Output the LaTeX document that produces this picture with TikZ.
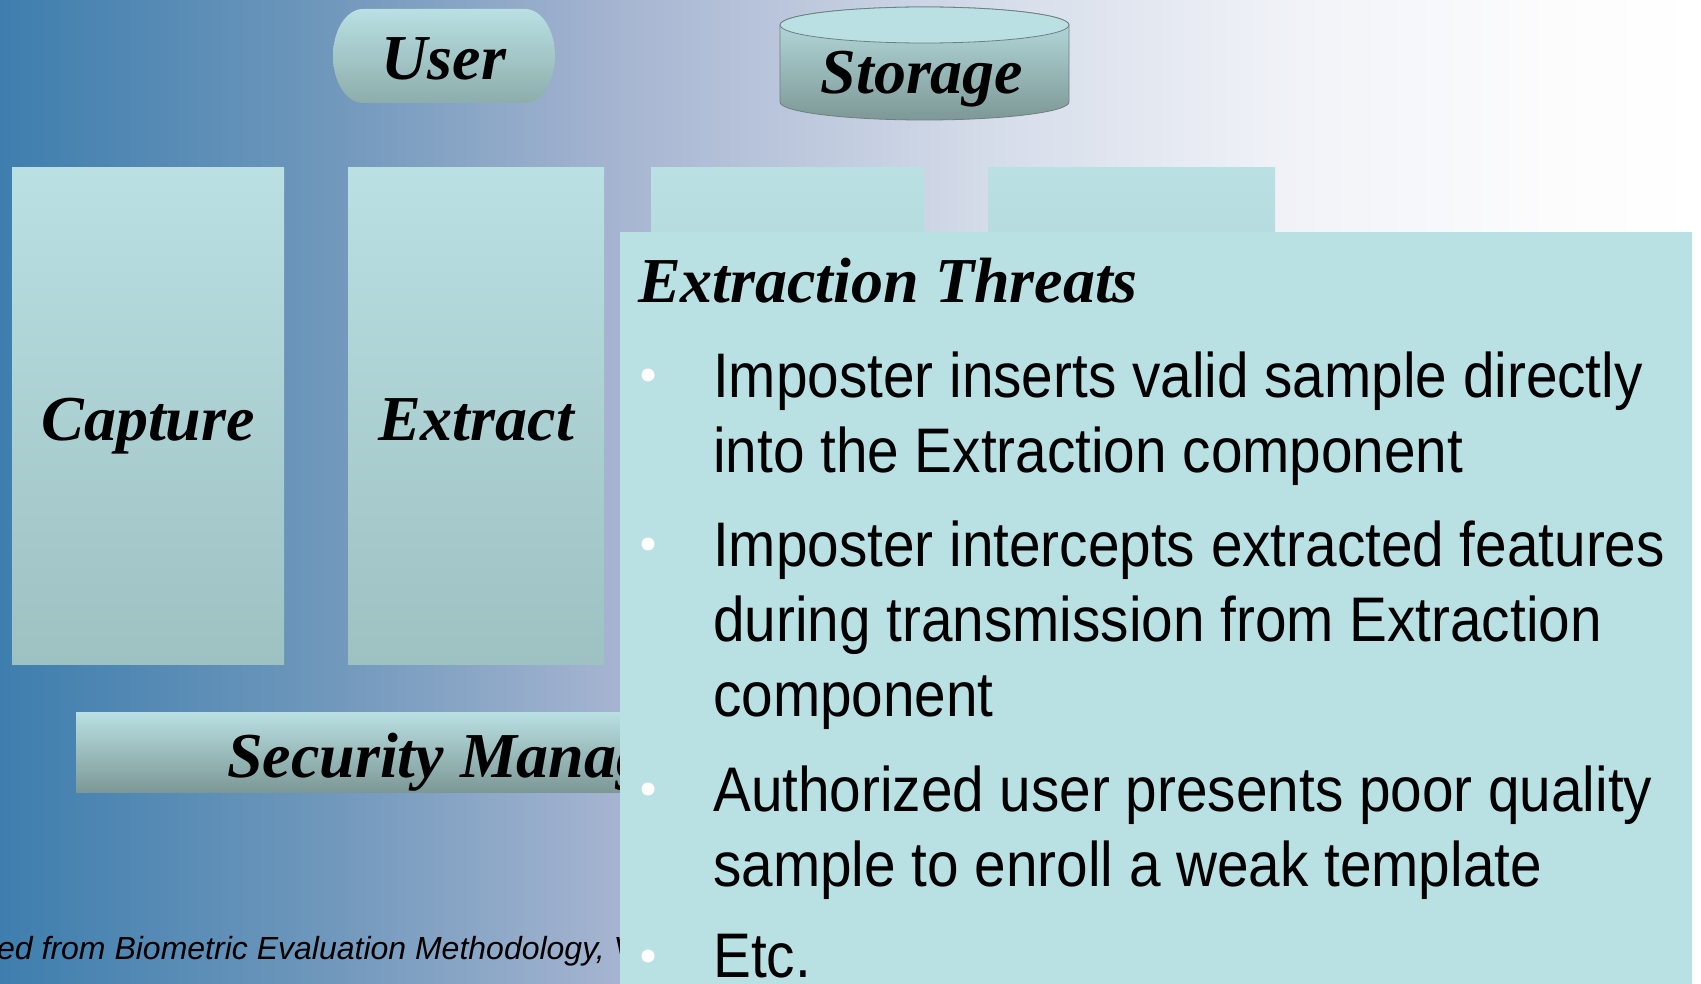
\documentclass[tikz,border=0pt]{standalone}
\usepackage{fontspec}
\setmainfont{Liberation Serif}
\newfontfamily\bodyfont[FakeStretch=0.9]{Liberation Sans}
\newfontfamily\footfont{Liberation Sans}
\definecolor{bgA}{RGB}{62,126,174}
\definecolor{bgB}{RGB}{112,152,188}
\definecolor{bgC}{RGB}{166,181,209}
\definecolor{bgD}{RGB}{214,221,234}
\definecolor{bgE}{RGB}{241,243,248}
\definecolor{bgF}{RGB}{252,252,253}
\definecolor{paneFill}{RGB}{185,224,227}
\definecolor{boxTop}{RGB}{186,224,227}
\definecolor{boxBot}{RGB}{158,193,194}
\definecolor{shapeBot}{RGB}{140,173,171}
\definecolor{barBot}{RGB}{124,152,150}
\definecolor{cylBot}{RGB}{125,152,150}
\definecolor{cylLine}{RGB}{110,128,128}
\begin{document}
\begin{tikzpicture}[x=1pt,y=-1pt,
  lbl/.style={font=\fontsize{64}{70}\selectfont\bfseries\itshape, inner sep=0pt, anchor=base},
  body/.style={font=\bodyfont\fontsize{63}{75}\selectfont, inner sep=0pt, anchor=base west},
  bulletdot/.style={circle, fill=white, draw=none, inner sep=0pt, minimum size=13pt},
  compbox/.style={top color=boxTop, bottom color=boxBot, draw=none},
]
\useasboundingbox (0,0) rectangle (1701,984);
% background gradient
\shade[left color=bgA, right color=bgB] (0,0) rectangle (331,984);
\shade[left color=bgB, right color=bgC] (330,0) rectangle (621,984);
\shade[left color=bgC, right color=bgD] (620,0) rectangle (1001,984);
\shade[left color=bgD, right color=bgE] (1000,0) rectangle (1301,984);
\shade[left color=bgE, right color=bgF] (1300,0) rectangle (1551,984);
\shade[left color=bgF, right color=white] (1550,0) rectangle (1701,984);

% User terminator
\shade[top color=boxTop, bottom color=shapeBot]
  (363,9) -- (525,9) arc[start angle=-90, end angle=90, x radius=30, y radius=47]
  -- (363,103) arc[start angle=90, end angle=270, x radius=30, y radius=47] -- cycle;
\node[lbl] (user) at (444,80) {User};

% Storage cylinder
\shade[top color=boxTop, bottom color=cylBot, draw=cylLine, line width=0.8pt]
  (780,25) -- (780,102) arc[start angle=180, end angle=0, x radius=144.5, y radius=18]
  -- (1069,25) arc[start angle=0, end angle=-180, x radius=144.5, y radius=18] -- cycle;
\filldraw[fill=boxTop, draw=cylLine, line width=0.8pt] (924.5,25) ellipse[x radius=144.5, y radius=18];
\node[lbl] (storage) at (922,94) {Storage};

% component boxes
\shade[compbox] (12,168) rectangle (284,664);
\shade[compbox] (348,168) rectangle (604,664);
\shade[compbox] (651,168) rectangle (924,664);
\shade[compbox] (988,168) rectangle (1275,664);
\node[lbl] (capture) at (148,440) {Capture};
\node[lbl] (extract) at (476,440) {Extract};

% security manager bar
\shade[top color=boxTop, bottom color=barBot] (76,712) rectangle (860,792);
\node[lbl, anchor=base west] (secmgr) at (227,777) {Security Manag};

% footer source
\node[font=\footfont\itshape\fontsize{32}{36}\selectfont, anchor=base west, inner sep=0pt] (src) at (-3,959) {ed from Biometric Evaluation Methodology, V};

% threats panel
\fill[paneFill] (620,232) rectangle (1692,984);
\node[lbl, anchor=base west] (title) at (638,303) {Extraction Threats};

\node[bulletdot] (b1) at (648,375) {};
\node[bulletdot] (b2) at (648,544) {};
\node[bulletdot] (b3) at (648,789) {};
\node[bulletdot] (b4) at (648,956) {};

\node[body] (l1) at (713,397) {Imposter inserts valid sample directly};
\node[body] (l2) at (713,472) {into the Extraction component};
\node[body] (l3) at (713,566) {Imposter intercepts extracted features};
\node[body] (l4) at (713,641) {during transmission from Extraction};
\node[body] (l5) at (713,716) {component};
\node[body] (l6) at (713,811) {Authorized user presents poor quality};
\node[body] (l7) at (713,886) {sample to enroll a weak template};
\node[body] (l8) at (713,977) {Etc.};
\end{tikzpicture}
\end{document}
